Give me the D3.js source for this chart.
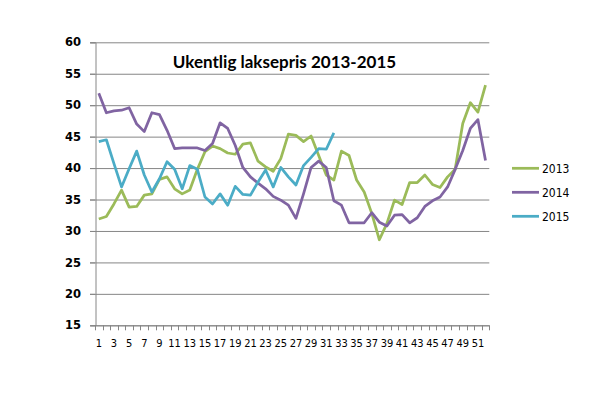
<!DOCTYPE html>
<html>
<head>
<meta charset="utf-8">
<script src="https://cdn.jsdelivr.net/npm/d3@7"></script>
<style>
  body { margin: 0; background: #fff; }
  svg { display: block; }
</style>
</head>
<body>
<div id="chart"></div>
<script>
// week numbers on the x axis
const weeks = [1, 2, 3, 4, 5, 6, 7, 8, 9, 10, 11, 12, 13, 14, 15, 16, 17, 18, 19, 20,
  21, 22, 23, 24, 25, 26, 27, 28, 29, 30, 31, 32, 33, 34, 35, 36, 37, 38, 39, 40,
  41, 42, 43, 44, 45, 46, 47, 48, 49, 50, 51, 52];

const price2013 = [31.9, 32.3, 34.3, 36.5, 33.8, 33.9, 35.7, 35.9, 38.2, 38.6,
  36.7, 35.9, 36.5, 39.8, 42.6, 43.5, 43.1, 42.4, 42.2, 43.8,
  44.0, 41.1, 40.2, 39.5, 41.5, 45.4, 45.2, 44.2, 45.1, 42.0,
  38.9, 38.1, 42.7, 42.0, 38.1, 36.2, 32.8, 28.6, 31.2, 34.9,
  34.2, 37.7, 37.7, 38.9, 37.4, 36.9, 38.6, 39.8, 47.1, 50.4, 48.9, 53.2];

const price2014 = [51.9, 48.8, 49.1, 49.2, 49.6, 47.0, 45.8, 48.8, 48.5, 46.0,
  43.1, 43.2, 43.2, 43.2, 42.8, 43.9, 47.2, 46.3, 43.6, 40.1,
  38.6, 37.6, 36.7, 35.5, 34.9, 34.1, 32.0, 35.9, 40.1, 41.1,
  40.1, 34.8, 34.1, 31.3, 31.3, 31.3, 32.9, 31.4, 30.8, 32.5,
  32.6, 31.3, 32.1, 33.9, 34.8, 35.4, 37.0, 39.8, 42.8, 46.3, 47.7, 41.2];

const price2015 = [44.2, 44.5, 40.7, 37.0, 39.9, 42.7, 38.9, 36.2, 38.3, 41.0,
  39.8, 36.7, 40.4, 39.8, 35.4, 34.3, 35.9, 34.1, 37.1, 35.8,
  35.7, 37.8, 39.7, 37.0, 40.1, 38.6, 37.3, 40.4, 41.7, 43.1,
  43.0, 45.6];

const seriesNames = ["2013", "2014", "2015"];
const yTicks = [15, 20, 25, 30, 35, 40, 45, 50, 55, 60];
const title = "Ukentlig laksepris 2013-2015";

const colors = ["#9bbb59", "#8064a2", "#4bacc6"];

const svgWidth = 591;
const svgHeight = 398;

const margin = {top: 42.3, right: 101.7, bottom: 72.7, left: 95},
  width = svgWidth - margin.left - margin.right,
  height = svgHeight - margin.top - margin.bottom;

const svg = d3.select("#chart")
  .append("svg")
  .attr("width", svgWidth)
  .attr("height", svgHeight);

const g = svg.append("g")
  .attr("transform", "translate(" + margin.left + "," + margin.top + ")");

const x = d3.scaleBand()
  .domain(weeks)
  .range([0, width])
  .padding(0);

const y = d3.scaleLinear()
  .domain([15, 60])
  .range([height, 0]);

// gridlines
g.selectAll(".grid")
  .data(yTicks).enter()
  .append("line")
    .attr("class", "grid")
    .attr("x1", -5)
    .attr("x2", width)
    .attr("y1", d => y(d) + 0.5)
    .attr("y2", d => y(d) + 0.5)
    .style("stroke", "#868686")
    .style("stroke-width", 1);

// y axis
const yAxis = g.append("g")
  .call(d3.axisLeft(y).tickValues(yTicks).tickSize(5).tickPadding(9));
yAxis.select(".domain").style("stroke", "#868686").attr("transform", "translate(0.5,0)");
yAxis.selectAll(".tick line").style("stroke", "#868686");
yAxis.selectAll("text")
  .style("font-family", "'DejaVu Sans', sans-serif")
  .style("font-weight", "bold")
  .style("font-size", "11.5px")
  .style("fill", "#000");

// x axis: ticks between weeks, labels on odd weeks
const xAxis = g.append("g")
  .attr("transform", "translate(0," + height + ")");

xAxis.append("line")
  .attr("x1", 0).attr("x2", width)
  .attr("y1", 0.5).attr("y2", 0.5)
  .style("stroke", "#868686");

xAxis.selectAll(".xtick")
  .data(weeks.concat([null])).enter()
  .append("line")
    .attr("class", "xtick")
    .attr("x1", (d, i) => Math.round(i * x.step()) + 0.5)
    .attr("x2", (d, i) => Math.round(i * x.step()) + 0.5)
    .attr("y1", 0)
    .attr("y2", 5)
    .style("stroke", "#868686");

xAxis.selectAll(".xlabel")
  .data(weeks.filter(d => d % 2 === 1)).enter()
  .append("text")
    .attr("class", "xlabel")
    .attr("x", d => x(d) + x.bandwidth() / 2)
    .attr("y", 21.5)
    .attr("text-anchor", "middle")
    .style("font-family", "'DejaVu Sans Condensed', 'DejaVu Sans', sans-serif")
    .style("font-size", "11px")
    .style("fill", "#000")
    .text(d => d);

// lines
const line = d3.line()
  .x((d, i) => x(weeks[i]) + x.bandwidth() / 2)
  .y(d => y(d));

const allSeries = [price2013, price2014, price2015];

g.selectAll(".series")
  .data(allSeries).enter()
  .append("path")
    .attr("class", "series")
    .attr("d", d => line(d))
    .style("fill", "none")
    .style("stroke", (d, i) => colors[i])
    .style("stroke-width", 2.75)
    .style("stroke-linejoin", "round");

// title
svg.append("text")
  .attr("x", 284.5)
  .attr("y", 68)
  .attr("text-anchor", "middle")
  .style("font-family", "Lato, 'Open Sans', sans-serif")
  .style("font-weight", "bold")
  .style("font-size", "17px")
  .style("fill", "#000")
  .text(title);

// legend
const legend = svg.selectAll(".legend")
  .data(seriesNames).enter()
  .append("g")
    .attr("class", "legend")
    .attr("transform", (d, i) => "translate(512," + (168.3 + i * 24) + ")");

legend.append("line")
  .attr("x1", 0).attr("x2", 27)
  .attr("y1", 0).attr("y2", 0)
  .style("stroke", (d, i) => colors[i])
  .style("stroke-width", 2.75);

legend.append("text")
  .attr("x", 30)
  .attr("y", 4.5)
  .style("font-family", "'DejaVu Sans Condensed', 'DejaVu Sans', sans-serif")
  .style("font-size", "12px")
  .style("fill", "#000")
  .text(d => d);
</script>
</body>
</html>
